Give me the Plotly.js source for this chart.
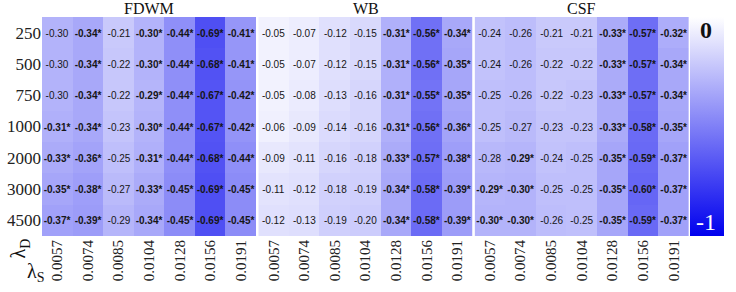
<!DOCTYPE html>
<html>
<head>
<meta charset="utf-8">
<script src="https://cdn.plot.ly/plotly-3.0.1.min.js"></script>
<style>
  html, body { margin: 0; padding: 0; background: #fff; }
  #chart { width: 736px; height: 292px; }
</style>
</head>
<body>
<div id="chart"></div>
<script>
// Correlation grids: rows are lambda_D, columns are lambda_S
const lambdaD = ['250', '500', '750', '1000', '2000', '3000', '4500'];
const lambdaS = ['0.0057', '0.0074', '0.0085', '0.0104', '0.0128', '0.0156', '0.0191'];
const regions = ['FDWM', 'WB', 'CSF'];

const fdwmValues = [
  [-0.30, -0.34, -0.21, -0.30, -0.44, -0.69, -0.41],
  [-0.30, -0.34, -0.22, -0.30, -0.44, -0.68, -0.41],
  [-0.30, -0.34, -0.22, -0.29, -0.44, -0.67, -0.42],
  [-0.31, -0.34, -0.23, -0.30, -0.44, -0.67, -0.42],
  [-0.33, -0.36, -0.25, -0.31, -0.44, -0.68, -0.44],
  [-0.35, -0.38, -0.27, -0.33, -0.45, -0.69, -0.45],
  [-0.37, -0.39, -0.29, -0.34, -0.45, -0.69, -0.45]
];
const fdwmSignificant = [
  [0, 1, 0, 1, 1, 1, 1],
  [0, 1, 0, 1, 1, 1, 1],
  [0, 1, 0, 1, 1, 1, 1],
  [1, 1, 0, 1, 1, 1, 1],
  [1, 1, 0, 1, 1, 1, 1],
  [1, 1, 0, 1, 1, 1, 1],
  [1, 1, 0, 1, 1, 1, 1]
];

const wbValues = [
  [-0.05, -0.07, -0.12, -0.15, -0.31, -0.56, -0.34],
  [-0.05, -0.07, -0.12, -0.15, -0.31, -0.56, -0.35],
  [-0.05, -0.08, -0.13, -0.16, -0.31, -0.55, -0.35],
  [-0.06, -0.09, -0.14, -0.16, -0.31, -0.56, -0.36],
  [-0.09, -0.11, -0.16, -0.18, -0.33, -0.57, -0.38],
  [-0.11, -0.12, -0.18, -0.19, -0.34, -0.58, -0.39],
  [-0.12, -0.13, -0.19, -0.20, -0.34, -0.58, -0.39]
];
const wbSignificant = [
  [0, 0, 0, 0, 1, 1, 1],
  [0, 0, 0, 0, 1, 1, 1],
  [0, 0, 0, 0, 1, 1, 1],
  [0, 0, 0, 0, 1, 1, 1],
  [0, 0, 0, 0, 1, 1, 1],
  [0, 0, 0, 0, 1, 1, 1],
  [0, 0, 0, 0, 1, 1, 1]
];

const csfValues = [
  [-0.24, -0.26, -0.21, -0.21, -0.33, -0.57, -0.32],
  [-0.24, -0.26, -0.22, -0.22, -0.33, -0.57, -0.34],
  [-0.25, -0.26, -0.22, -0.23, -0.33, -0.57, -0.34],
  [-0.25, -0.27, -0.23, -0.23, -0.33, -0.58, -0.35],
  [-0.28, -0.29, -0.24, -0.25, -0.35, -0.59, -0.37],
  [-0.29, -0.30, -0.25, -0.25, -0.35, -0.60, -0.37],
  [-0.30, -0.30, -0.26, -0.25, -0.35, -0.59, -0.37]
];
const csfSignificant = [
  [0, 0, 0, 0, 1, 1, 1],
  [0, 0, 0, 0, 1, 1, 1],
  [0, 0, 0, 0, 1, 1, 1],
  [0, 0, 0, 0, 1, 1, 1],
  [0, 1, 0, 0, 1, 1, 1],
  [1, 1, 0, 0, 1, 1, 1],
  [1, 1, 0, 0, 1, 1, 1]
];

const colorbarLabels = ['0', '-1'];

// ---- drawing ----
const SERIF = 'Liberation Serif';
const SANS = 'Liberation Sans';

function cellLabels(values, sig) {
  return values.map((row, i) => row.map((v, j) =>
    sig[i][j] ? '<b>' + v.toFixed(2) + '*</b>' : v.toFixed(2)));
}

const blocks = [
  { z: fdwmValues, sig: fdwmSignificant },
  { z: wbValues, sig: wbSignificant },
  { z: csfValues, sig: csfSignificant }
];

// plot area: 659px wide, three blocks separated by thin white gaps
const gap = 2 / 659;
const w = (1 - 2 * gap) / 3;
const domains = [[0, w], [w + gap, 2 * w + gap], [2 * w + 2 * gap, 1]];

const traces = blocks.map((b, k) => ({
  type: 'heatmap',
  x: lambdaS,
  y: lambdaD,
  z: b.z,
  text: cellLabels(b.z, b.sig),
  texttemplate: '%{text}',
  textfont: { family: SANS, size: 10, color: '#161616' },
  coloraxis: 'coloraxis',
  xaxis: k === 0 ? 'x' : 'x' + (k + 1),
  yaxis: 'y',
  hoverinfo: 'skip'
}));

const xAxisBase = {
  type: 'category',
  tickangle: -90,
  ticks: '',
  showgrid: false,
  zeroline: false,
  showline: false,
  tickfont: { family: SERIF, size: 15, color: '#222' },
  anchor: 'y',
  fixedrange: true
};

const layout = {
  width: 736,
  height: 292,
  margin: { l: 42, r: 35, t: 17, b: 56, pad: 0 },
  paper_bgcolor: '#fff',
  plot_bgcolor: '#fff',
  showlegend: false,
  xaxis: Object.assign({}, xAxisBase, { domain: domains[0] }),
  xaxis2: Object.assign({}, xAxisBase, { domain: domains[1] }),
  xaxis3: Object.assign({}, xAxisBase, { domain: domains[2] }),
  yaxis: {
    type: 'category',
    autorange: 'reversed',
    ticks: '',
    showgrid: false,
    zeroline: false,
    showline: false,
    anchor: 'x',
    tickfont: { family: SERIF, size: 17, color: '#222' },
    fixedrange: true
  },
  coloraxis: {
    cmin: -1,
    cmax: 0,
    colorscale: [[0, 'rgb(0,0,238)'], [1, 'rgb(255,255,255)']],
    colorbar: {
      x: 1.0015,
      xref: 'paper',
      xanchor: 'left',
      xpad: 0,
      y: 0.5,
      yanchor: 'middle',
      ypad: 0,
      len: 1,
      lenmode: 'fraction',
      thickness: 34,
      outlinewidth: 0,
      ticks: '',
      showticklabels: false
    }
  },
  annotations: []
};

regions.forEach((name, k) => {
  layout.annotations.push({
    text: name,
    xref: 'paper', yref: 'paper',
    x: (domains[k][0] + domains[k][1]) / 2, y: 1,
    xanchor: 'center', yanchor: 'bottom', yshift: -2,
    showarrow: false,
    font: { family: SERIF, size: 16, color: '#111' }
  });
});

layout.annotations.push(
  {
    text: colorbarLabels[0],
    xref: 'paper', yref: 'paper',
    x: (718 - 42) / 659, y: 1 - (30 - 17) / 219,
    xanchor: 'center', yanchor: 'middle',
    showarrow: false,
    font: { family: SERIF, size: 24, color: '#111', weight: 'bold' }
  },
  {
    text: colorbarLabels[1],
    xref: 'paper', yref: 'paper',
    x: (718 - 42) / 659, y: 1 - (222 - 17) / 219,
    xanchor: 'center', yanchor: 'middle',
    showarrow: false,
    font: { family: SERIF, size: 24, color: '#fff' }
  },
  {
    text: 'λ<sub>D</sub>',
    xref: 'paper', yref: 'paper',
    x: (19 - 42) / 659, y: 1 - (248 - 17) / 219,
    xanchor: 'center', yanchor: 'middle',
    textangle: -90,
    showarrow: false,
    font: { family: SERIF, size: 20, color: '#111' }
  },
  {
    text: 'λ<sub>S</sub>',
    xref: 'paper', yref: 'paper',
    x: (36 - 42) / 659, y: 1 - (272 - 17) / 219,
    xanchor: 'center', yanchor: 'middle',
    showarrow: false,
    font: { family: SERIF, size: 20, color: '#111' }
  }
);

Plotly.newPlot('chart', traces, layout, { displayModeBar: false, staticPlot: true });
</script>
</body>
</html>
